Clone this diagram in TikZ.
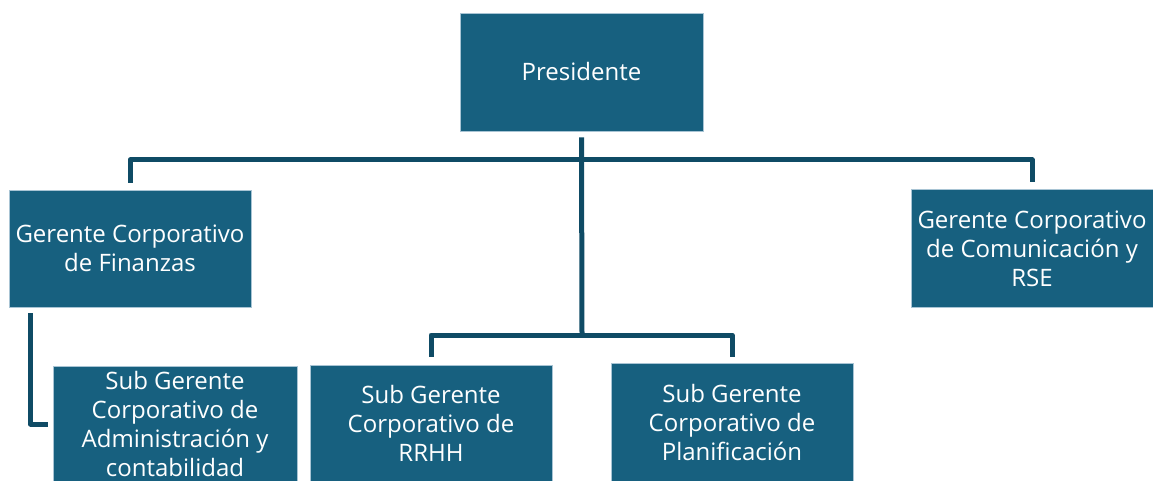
\documentclass[tikz,border=0pt]{standalone}
\usepackage{fontspec}
\setmainfont{Open Sans}
\definecolor{boxfill}{HTML}{17607F}
\definecolor{boxline}{HTML}{A8C4D4}
\definecolor{conn}{HTML}{0F4B65}
\begin{document}
\begin{tikzpicture}[x=1pt,y=-1pt,
  box/.style={draw=boxline, line width=0.8pt, fill=boxfill, text=white, align=center,
    font=\fontsize{24}{29}\selectfont, inner sep=0pt, minimum width=242pt, minimum height=117pt},
  link/.style={draw=conn, line width=5pt, line join=round}]
\useasboundingbox (0,0) rectangle (1153,481);
\node[box, minimum width=243pt, minimum height=118pt] (pres) at (581.5,72) {Presidente};
\node[box] (fin) at (130,248.5) {Gerente Corporativo\\de Finanzas};
\node[box, minimum height=118pt] (com) at (1032,248.5) {Gerente Corporativo\\de Comunicación y\\RSE};
\node[box, minimum width=244pt, minimum height=116pt] (adm) at (175,424) {Sub Gerente\\Corporativo de\\Administración y\\contabilidad};
\node[box] (rrhh) at (431,423.5) {Sub Gerente\\Corporativo de\\RRHH};
\node[box, minimum height=118pt] (plan) at (732,422) {Sub Gerente\\Corporativo de\\Planificación};
\coordinate (top) at (582,160);
\coordinate (low) at (582,335);
\draw[link] ([yshift=-6pt]pres.south) -- (low);
\draw[link] ([yshift=7pt]fin.north) |- (top) -| ([yshift=7pt]com.north);
\draw[link] ([yshift=8pt]rrhh.north) |- (low) -| ([yshift=6pt]plan.north);
\draw[link] ([xshift=22pt,yshift=-6pt]fin.south west) |- ([xshift=-5pt]adm.west);
\end{tikzpicture}
\end{document}
